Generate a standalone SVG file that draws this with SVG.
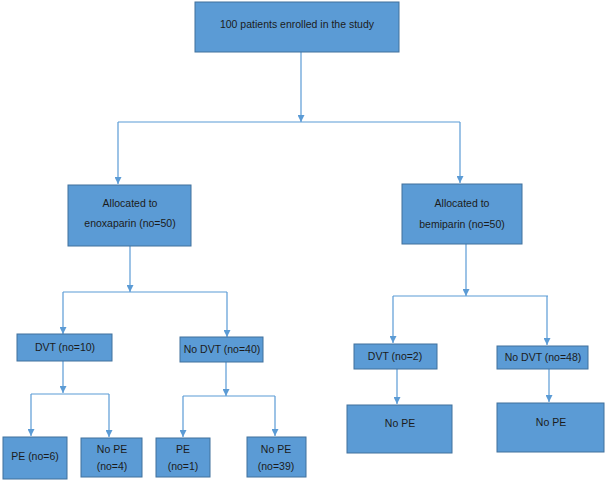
<svg xmlns="http://www.w3.org/2000/svg" width="605" height="482" viewBox="0 0 605 482">
<style>
.box{fill:#5B9BD5;stroke:#41719C;stroke-width:1}
.t{font-family:"Liberation Sans",Arial,sans-serif;font-size:10.5px;fill:#1b1b1b;text-anchor:middle}
.c{fill:none;stroke:#5B9BD5;stroke-width:1.2}
</style>
<defs>
<marker id="ah" viewBox="0 0 10 10" refX="10" refY="5" markerWidth="7" markerHeight="7" orient="auto" markerUnits="userSpaceOnUse">
<path d="M0,0 L10,5 L0,10 z" fill="#5B9BD5"/>
</marker>
</defs>
<rect width="605" height="482" fill="#ffffff"/>
<g id="connectors">
<line class="c" x1="301" y1="52" x2="301" y2="122" marker-end="url(#ah)"/>
<line class="c" x1="118" y1="122" x2="460" y2="122"/>
<line class="c" x1="118" y1="122" x2="118" y2="184" marker-end="url(#ah)"/>
<line class="c" x1="460" y1="122" x2="460" y2="183" marker-end="url(#ah)"/>
<line class="c" x1="130" y1="246" x2="130" y2="292" marker-end="url(#ah)"/>
<line class="c" x1="63" y1="292" x2="227" y2="292"/>
<line class="c" x1="63" y1="292" x2="63" y2="334" marker-end="url(#ah)"/>
<line class="c" x1="227" y1="292" x2="227" y2="337" marker-end="url(#ah)"/>
<line class="c" x1="466" y1="244" x2="466" y2="296" marker-end="url(#ah)"/>
<line class="c" x1="393" y1="296" x2="548" y2="296"/>
<line class="c" x1="393" y1="296" x2="393" y2="343" marker-end="url(#ah)"/>
<line class="c" x1="547" y1="296" x2="547" y2="345" marker-end="url(#ah)"/>
<line class="c" x1="63" y1="361" x2="63" y2="393" marker-end="url(#ah)"/>
<line class="c" x1="31" y1="394" x2="109" y2="394"/>
<line class="c" x1="31" y1="394" x2="31" y2="436" marker-end="url(#ah)"/>
<line class="c" x1="109" y1="394" x2="109" y2="437" marker-end="url(#ah)"/>
<line class="c" x1="226" y1="362" x2="226" y2="396" marker-end="url(#ah)"/>
<line class="c" x1="183" y1="396" x2="275" y2="396"/>
<line class="c" x1="183" y1="396" x2="183" y2="437" marker-end="url(#ah)"/>
<line class="c" x1="275" y1="396" x2="275" y2="436" marker-end="url(#ah)"/>
<line class="c" x1="397" y1="369" x2="397" y2="404" marker-end="url(#ah)"/>
<line class="c" x1="549" y1="369" x2="549" y2="402" marker-end="url(#ah)"/>
</g>
<g id="n-root"><rect class="box" x="195" y="2" width="204" height="50"/><text class="t" x="297" y="28">100 patients enrolled in the study</text></g>
<g id="n-enox"><rect class="box" x="68" y="185" width="123" height="61"/><text class="t" x="130" y="207">Allocated to</text><text class="t" x="130" y="227">enoxaparin (no=50)</text></g>
<g id="n-bemi"><rect class="box" x="402" y="184" width="120" height="60"/><text class="t" x="462" y="207">Allocated to</text><text class="t" x="462" y="228">bemiparin (no=50)</text></g>
<g id="n-dvt10"><rect class="box" x="17" y="334" width="95" height="27"/><text class="t" x="65" y="351">DVT (no=10)</text></g>
<g id="n-nodvt40"><rect class="box" x="180" y="337" width="83" height="25"/><text class="t" x="222" y="353">No DVT (no=40)</text></g>
<g id="n-dvt2"><rect class="box" x="354" y="344" width="83" height="25"/><text class="t" x="395" y="360">DVT (no=2)</text></g>
<g id="n-nodvt48"><rect class="box" x="497" y="346" width="91" height="23"/><text class="t" x="543" y="361">No DVT (no=48)</text></g>
<g id="n-pe6"><rect class="box" x="3" y="437" width="64" height="42"/><text class="t" x="35" y="460">PE (no=6)</text></g>
<g id="n-nope4"><rect class="box" x="81" y="438" width="61" height="39"/><text class="t" x="112" y="453">No PE</text><text class="t" x="112" y="470">(no=4)</text></g>
<g id="n-pe1"><rect class="box" x="156" y="438" width="54" height="39"/><text class="t" x="183" y="453">PE</text><text class="t" x="183" y="470">(no=1)</text></g>
<g id="n-nope39"><rect class="box" x="247" y="437" width="59" height="40"/><text class="t" x="276" y="453">No PE</text><text class="t" x="276" y="470">(no=39)</text></g>
<g id="n-nope-a"><rect class="box" x="347" y="405" width="105" height="48"/><text class="t" x="400" y="427">No PE</text></g>
<g id="n-nope-b"><rect class="box" x="497" y="403" width="107" height="49"/><text class="t" x="551" y="426">No PE</text></g>
</svg>
